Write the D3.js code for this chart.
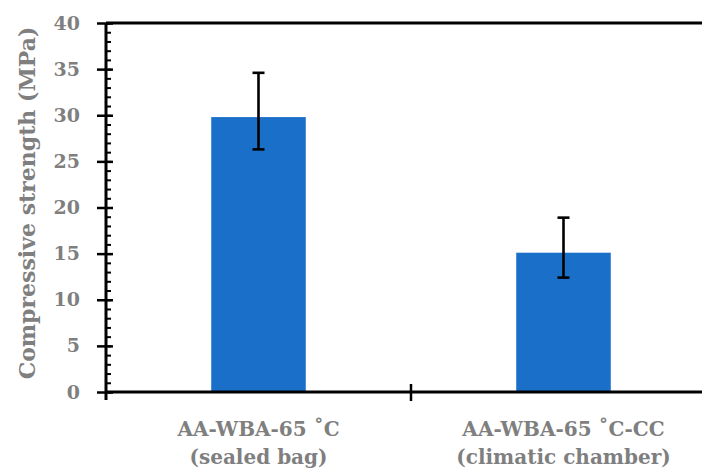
<!DOCTYPE html>
<html>
<head>
<meta charset="utf-8">
<script src="https://cdn.jsdelivr.net/npm/d3@7"></script>
<style>
  body { margin: 0; background: #fff; }
  svg { display: block; }
  text { font-family: "DejaVu Serif", serif; font-weight: bold; fill: #7f7f7f; }
</style>
</head>
<body>
<svg width="702" height="470"></svg>
<script>
// data
var categories = ["AA-WBA-65 ˚C|(sealed bag)", "AA-WBA-65 ˚C-CC|(climatic chamber)"];
var strength = [29.8, 15.1];
var errLow = [26.3, 12.4];
var errHigh = [34.6, 18.9];
var yTicks = [0, 5, 10, 15, 20, 25, 30, 35, 40];

var svg = d3.select("svg"),
    width = 702,
    plotLeft = 106, plotTop = 23, plotBottom = 392;

var y = d3.scaleLinear()
    .domain([0, 40])
    .range([plotBottom, plotTop]);

var x = d3.scaleBand()
    .domain(categories)
    .range([plotLeft, plotLeft + 610])
    .padding(0);

var barW = x.bandwidth() * 0.31;

// bars
svg.append("g").selectAll("rect")
    .data(categories)
    .enter().append("rect")
    .attr("x", function(d) { return x(d) + (x.bandwidth() - barW) / 2; })
    .attr("y", function(d, i) { return y(strength[i]); })
    .attr("width", barW)
    .attr("height", function(d, i) { return y(0) - y(strength[i]); })
    .attr("fill", "#1a70c8");

// error bars
var eb = svg.append("g").attr("stroke", "#000").attr("stroke-width", 2.6);
categories.forEach(function(c, i) {
    var cx = x(c) + x.bandwidth() / 2;
    eb.append("line").attr("x1", cx).attr("x2", cx)
        .attr("y1", y(errLow[i])).attr("y2", y(errHigh[i]));
    eb.append("line").attr("x1", cx - 6).attr("x2", cx + 6)
        .attr("y1", y(errLow[i])).attr("y2", y(errLow[i]));
    eb.append("line").attr("x1", cx - 6).attr("x2", cx + 6)
        .attr("y1", y(errHigh[i])).attr("y2", y(errHigh[i]));
});

// y axis: major ticks outside, minor + major inside
var yAxis = svg.append("g")
    .attr("transform", "translate(" + plotLeft + ",0)")
    .call(d3.axisLeft(y).tickValues(yTicks).tickSize(9).tickPadding(17).tickFormat(d3.format("d")));
yAxis.select(".domain").remove();
yAxis.selectAll("line").attr("stroke", "#000").attr("stroke-width", 2.5);
yAxis.selectAll("text").style("font-size", "19px").attr("fill", "#7f7f7f");

var minor = svg.append("g")
    .attr("transform", "translate(" + plotLeft + ",0)")
    .call(d3.axisRight(y).tickValues(d3.range(0, 41)).tickSize(5).tickFormat(""));
minor.select(".domain").remove();
minor.selectAll("line").attr("stroke", "#000").attr("stroke-width", 2);

var major = svg.append("g")
    .attr("transform", "translate(" + plotLeft + ",0)")
    .call(d3.axisRight(y).tickValues(yTicks).tickSize(7).tickFormat(""));
major.select(".domain").remove();
major.selectAll("line").attr("stroke", "#000").attr("stroke-width", 2.5);

// frame lines
svg.append("line").attr("x1", plotLeft).attr("x2", plotLeft).attr("y1", plotTop).attr("y2", plotBottom + 8)
    .attr("stroke", "#000").attr("stroke-width", 3);
svg.append("line").attr("x1", plotLeft).attr("x2", width).attr("y1", plotTop).attr("y2", plotTop)
    .attr("stroke", "#000").attr("stroke-width", 3);
svg.append("line").attr("x1", plotLeft).attr("x2", width).attr("y1", plotBottom).attr("y2", plotBottom)
    .attr("stroke", "#000").attr("stroke-width", 3);

// x category separator tick
svg.append("g").selectAll("line")
    .data(categories.slice(1))
    .enter().append("line")
    .attr("x1", function(d) { return x(d); })
    .attr("x2", function(d) { return x(d); })
    .attr("y1", plotBottom - 8).attr("y2", plotBottom + 9)
    .attr("stroke", "#000").attr("stroke-width", 2.5);

// x labels
var lbl = svg.append("g").selectAll("text")
    .data(categories)
    .enter().append("text")
    .attr("text-anchor", "middle")
    .style("font-size", "20px");
lbl.each(function(d) {
    var t = d3.select(this), cx = x(d) + x.bandwidth() / 2;
    d.split("|").forEach(function(s, k) {
        t.append("tspan").attr("x", cx).attr("y", 436 + k * 28).text(s);
    });
});

// y title
svg.append("text")
    .attr("transform", "translate(35,203) rotate(-90)")
    .attr("text-anchor", "middle")
    .style("font-size", "22px")
    .text("Compressive strength (MPa)");
</script>
</body>
</html>
